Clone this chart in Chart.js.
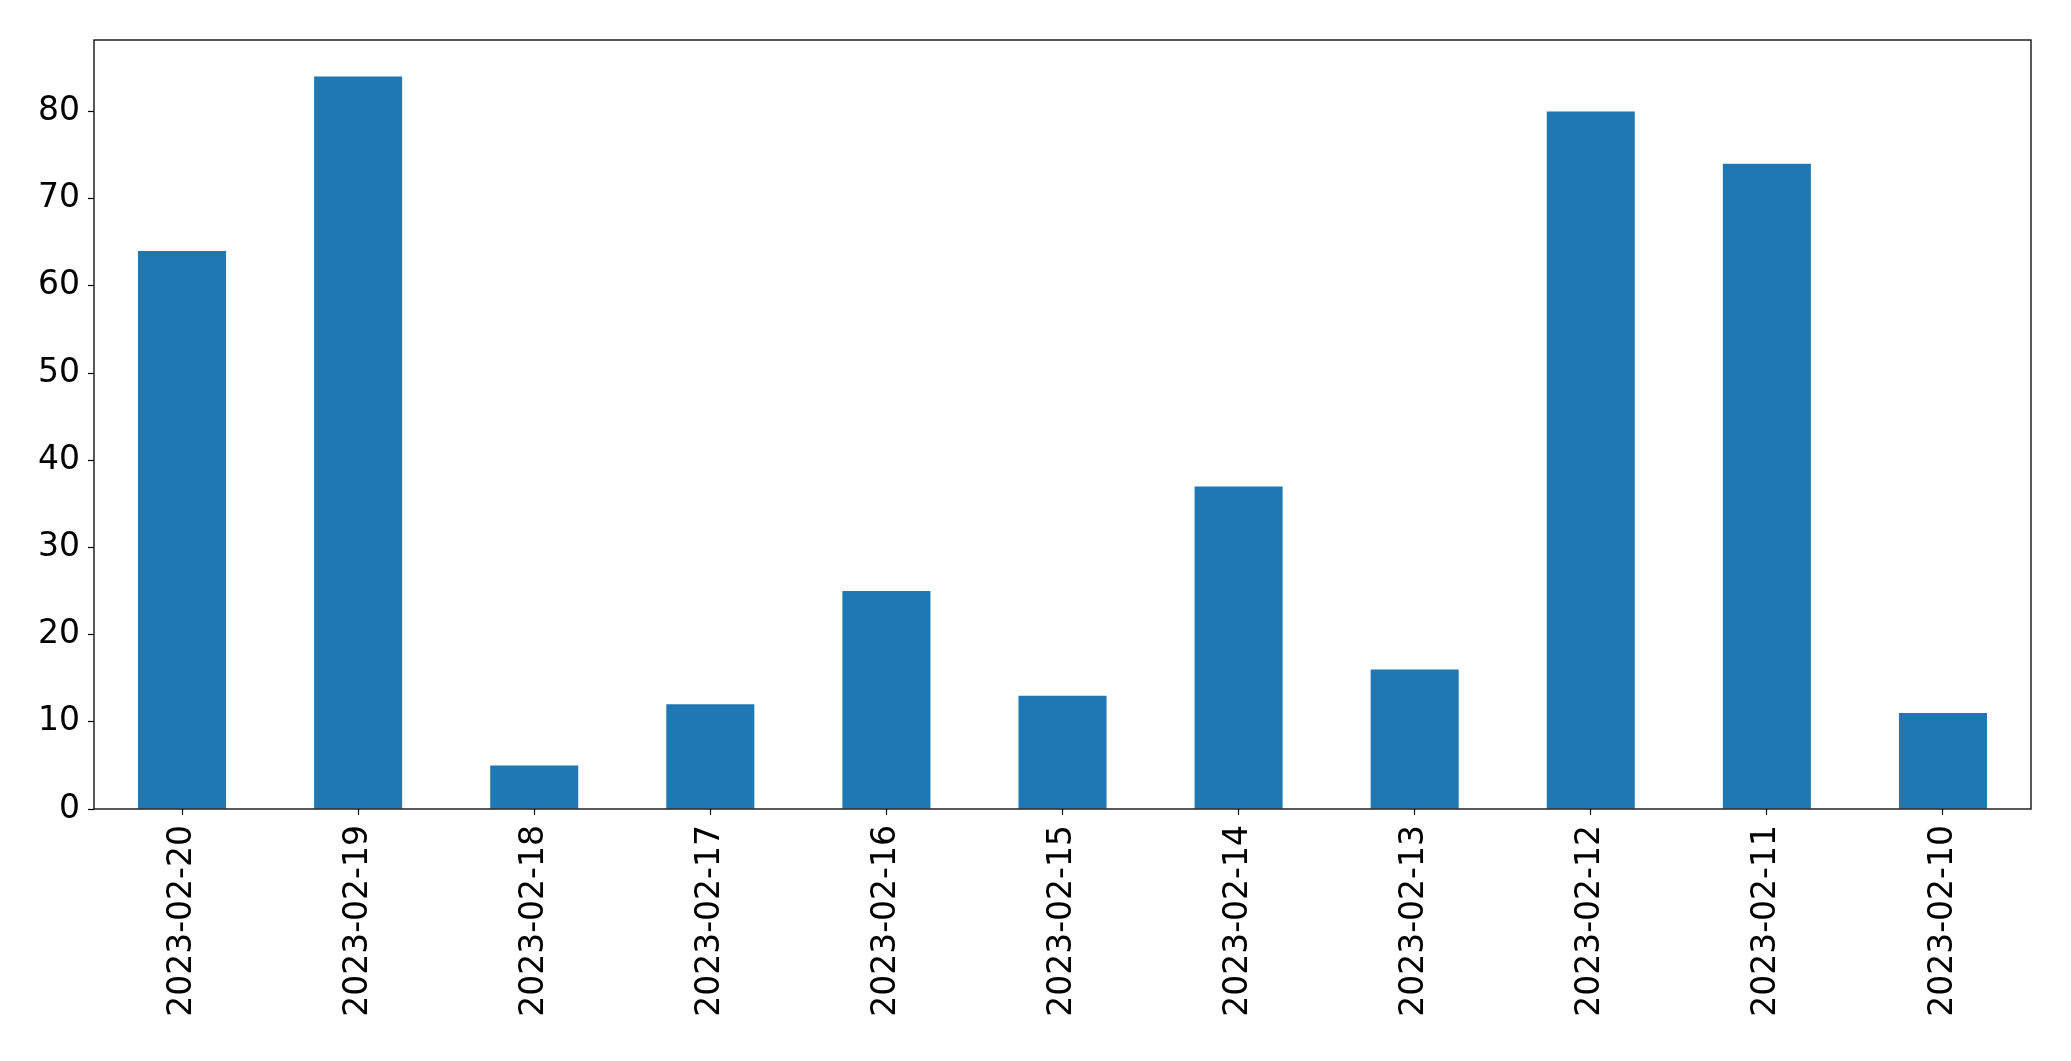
<!DOCTYPE html>
<html lang="en">
<head>
    <meta charset="UTF-8">
    <title>Bar chart</title>
    <script src="https://cdn.jsdelivr.net/npm/chart.js@4.4.0/dist/chart.umd.min.js"></script>
    <style>
        body { margin: 0; background: #fff; }
        #wrap { width: 2071px; height: 1061px; }
    </style>
</head>
<body>
    <div id="wrap"><canvas id="chart" width="2071" height="1061"></canvas></div>

    <script>
        // data
        const dates = ['2023-02-20', '2023-02-19', '2023-02-18', '2023-02-17', '2023-02-16', '2023-02-15',
                       '2023-02-14', '2023-02-13', '2023-02-12', '2023-02-11', '2023-02-10'];
        const counts = [64, 84, 5, 12, 25, 13, 37, 16, 80, 74, 11];
        const yMax = 88.2;
        const yStep = 10;

        // frame around the plot area (matplotlib style)
        const frame = {
            id: 'frame',
            afterDraw(chart) {
                const a = chart.chartArea, ctx = chart.ctx;
                ctx.save();
                ctx.strokeStyle = '#000';
                ctx.lineWidth = 1.3;
                ctx.strokeRect(a.left, a.top, a.right - a.left, a.bottom - a.top);
                ctx.restore();
            }
        };

        const tickFont = { family: 'DejaVu Sans', size: 33 };

        new Chart(document.getElementById('chart'), {
            type: 'bar',
            data: {
                labels: dates,
                datasets: [{
                    data: counts,
                    backgroundColor: '#1f77b4',
                    borderWidth: 0,
                    categoryPercentage: 1.0,
                    barPercentage: 0.5
                }]
            },
            options: {
                responsive: false,
                animation: false,
                layout: { padding: { top: 40, right: 40, left: 0, bottom: 0 } },
                plugins: { legend: { display: false }, tooltip: { enabled: false } },
                scales: {
                    x: {
                        offset: true,
                        grid: { display: true, offset: false, drawOnChartArea: false, tickLength: 6, tickColor: '#000', tickWidth: 1.2 },
                        border: { display: false },
                        ticks: { color: '#000', font: tickFont, minRotation: 90, maxRotation: 90, padding: 10, autoSkip: false },
                        afterFit(scale) { scale.height = 252; }
                    },
                    y: {
                        min: 0,
                        max: yMax,
                        grid: { display: true, drawOnChartArea: false, tickLength: 6, tickColor: '#000', tickWidth: 1.2 },
                        border: { display: false },
                        ticks: { color: '#000', font: tickFont, stepSize: yStep, includeBounds: false, padding: 8 },
                        afterFit(scale) { scale.width = 94; }
                    }
                }
            },
            plugins: [frame]
        });
    </script>
</body>
</html>
